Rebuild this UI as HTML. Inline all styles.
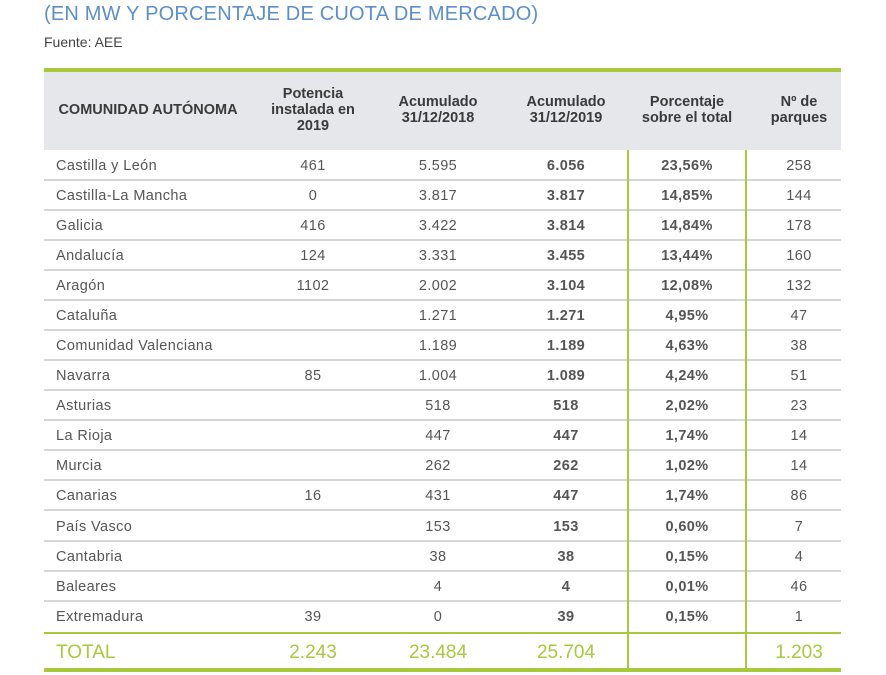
<!DOCTYPE html>
<html><head><meta charset="utf-8"><style>
body{margin:0;width:886px;height:675px;background:#fff;position:relative;overflow:hidden;font-family:"Liberation Sans",sans-serif;color:#555}
.t{position:absolute;left:44px;top:3px;font-size:20px;color:#5b8fcc;letter-spacing:0.2px}
.s{position:absolute;left:44px;top:34px;font-size:14px;color:#444}
.hd{position:absolute;left:44px;top:68px;width:797px;height:82px;background:#e6e7ea;border-top:4px solid #a9c83c;box-sizing:border-box}
.h{position:absolute;font-weight:bold;font-size:14.5px;color:#3a3a3a;text-align:center;line-height:16px;transform:translateX(-50%);white-space:nowrap}
.row{position:absolute;left:44px;width:797px;height:30px;border-bottom:2px solid #d6d6d6;box-sizing:border-box;font-size:14.5px;letter-spacing:0.4px}
.row span{position:absolute;top:7px;transform:translateX(-50%)}
.row span.n{left:12px;transform:none}
.b{font-weight:bold}
.v{position:absolute;top:150px;height:521px;width:2px;background:#a9c83c}
.tot{position:absolute;left:44px;top:632px;width:797px;height:40px;border-top:2px solid #a9c83c;border-bottom:4px solid #a9c83c;box-sizing:border-box;color:#a9c83c;font-size:19px}
.tot span{position:absolute;top:8px;transform:translateX(-50%)}
</style></head><body>
<div class="t">(EN MW Y PORCENTAJE DE CUOTA DE MERCADO)</div>
<div class="s">Fuente: AEE</div>
<div class="hd"></div>
<div class="h" style="left:148px;top:102px;">COMUNIDAD AUTÓNOMA</div>
<div class="h" style="left:313px;top:86px;">Potencia<br>instalada en<br>2019</div>
<div class="h" style="left:438px;top:94px;">Acumulado<br>31/12/2018</div>
<div class="h" style="left:566px;top:94px;">Acumulado<br>31/12/2019</div>
<div class="h" style="left:687px;top:94px;">Porcentaje<br>sobre el total</div>
<div class="h" style="left:799px;top:94px;">Nº de<br>parques</div>

<div class="row" style="top:151px"><span class="n">Castilla y León</span><span style="left:269px">461</span><span style="left:394px">5.595</span><span class="b" style="left:522px">6.056</span><span class="b" style="left:643px">23,56%</span><span style="left:755px">258</span></div>
<div class="row" style="top:181px"><span class="n">Castilla-La Mancha</span><span style="left:269px">0</span><span style="left:394px">3.817</span><span class="b" style="left:522px">3.817</span><span class="b" style="left:643px">14,85%</span><span style="left:755px">144</span></div>
<div class="row" style="top:211px"><span class="n">Galicia</span><span style="left:269px">416</span><span style="left:394px">3.422</span><span class="b" style="left:522px">3.814</span><span class="b" style="left:643px">14,84%</span><span style="left:755px">178</span></div>
<div class="row" style="top:241px"><span class="n">Andalucía</span><span style="left:269px">124</span><span style="left:394px">3.331</span><span class="b" style="left:522px">3.455</span><span class="b" style="left:643px">13,44%</span><span style="left:755px">160</span></div>
<div class="row" style="top:271px"><span class="n">Aragón</span><span style="left:269px">1102</span><span style="left:394px">2.002</span><span class="b" style="left:522px">3.104</span><span class="b" style="left:643px">12,08%</span><span style="left:755px">132</span></div>
<div class="row" style="top:301px"><span class="n">Cataluña</span><span style="left:394px">1.271</span><span class="b" style="left:522px">1.271</span><span class="b" style="left:643px">4,95%</span><span style="left:755px">47</span></div>
<div class="row" style="top:331px"><span class="n">Comunidad Valenciana</span><span style="left:394px">1.189</span><span class="b" style="left:522px">1.189</span><span class="b" style="left:643px">4,63%</span><span style="left:755px">38</span></div>
<div class="row" style="top:361px"><span class="n">Navarra</span><span style="left:269px">85</span><span style="left:394px">1.004</span><span class="b" style="left:522px">1.089</span><span class="b" style="left:643px">4,24%</span><span style="left:755px">51</span></div>
<div class="row" style="top:391px"><span class="n">Asturias</span><span style="left:394px">518</span><span class="b" style="left:522px">518</span><span class="b" style="left:643px">2,02%</span><span style="left:755px">23</span></div>
<div class="row" style="top:421px"><span class="n">La Rioja</span><span style="left:394px">447</span><span class="b" style="left:522px">447</span><span class="b" style="left:643px">1,74%</span><span style="left:755px">14</span></div>
<div class="row" style="top:451px"><span class="n">Murcia</span><span style="left:394px">262</span><span class="b" style="left:522px">262</span><span class="b" style="left:643px">1,02%</span><span style="left:755px">14</span></div>
<div class="row" style="top:481px"><span class="n">Canarias</span><span style="left:269px">16</span><span style="left:394px">431</span><span class="b" style="left:522px">447</span><span class="b" style="left:643px">1,74%</span><span style="left:755px">86</span></div>
<div class="row" style="top:512px"><span class="n">País Vasco</span><span style="left:394px">153</span><span class="b" style="left:522px">153</span><span class="b" style="left:643px">0,60%</span><span style="left:755px">7</span></div>
<div class="row" style="top:542px"><span class="n">Cantabria</span><span style="left:394px">38</span><span class="b" style="left:522px">38</span><span class="b" style="left:643px">0,15%</span><span style="left:755px">4</span></div>
<div class="row" style="top:572px"><span class="n">Baleares</span><span style="left:394px">4</span><span class="b" style="left:522px">4</span><span class="b" style="left:643px">0,01%</span><span style="left:755px">46</span></div>
<div class="row" style="top:602px;border-bottom:none"><span class="n">Extremadura</span><span style="left:269px">39</span><span style="left:394px">0</span><span class="b" style="left:522px">39</span><span class="b" style="left:643px">0,15%</span><span style="left:755px">1</span></div>
<div class="tot"><span style="transform:none;left:12px">TOTAL</span><span style="left:269px">2.243</span><span style="left:394px">23.484</span><span style="left:522px">25.704</span><span style="left:755px">1.203</span></div>
<div class="v" style="left:627px"></div>
<div class="v" style="left:745px"></div>
</body></html>
